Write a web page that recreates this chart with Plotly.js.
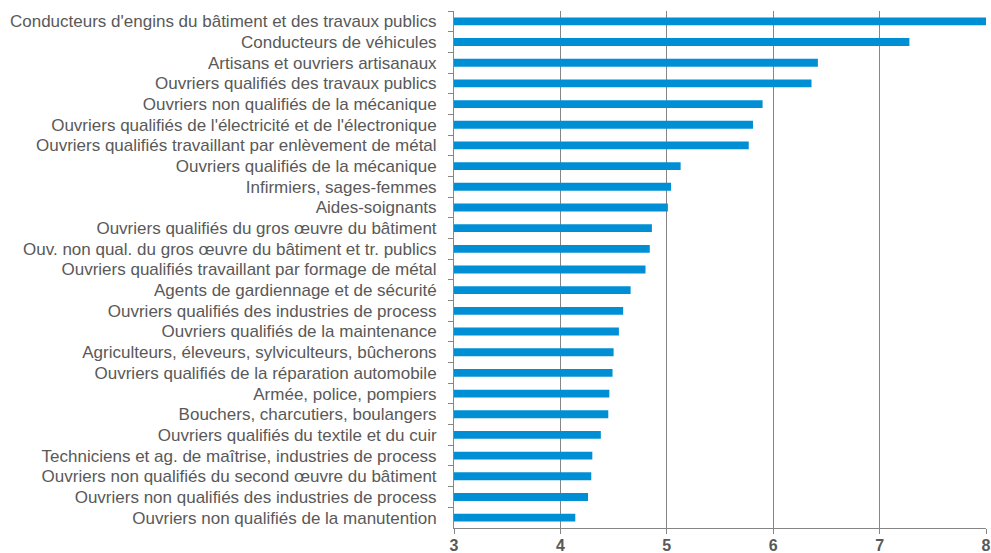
<!DOCTYPE html>
<html>
<head>
<meta charset="utf-8">
<script src="https://cdn.plot.ly/plotly-3.0.1.min.js"></script>
<style>html,body{margin:0;padding:0;background:#fff;}#chart{width:991px;height:553px;}</style>
</head>
<body>
<div id="chart"></div>
<script>
const categories = [
  "Conducteurs d'engins du bâtiment et des travaux publics",
  "Conducteurs de véhicules",
  "Artisans et ouvriers artisanaux",
  "Ouvriers qualifiés des travaux publics",
  "Ouvriers non qualifiés de la mécanique",
  "Ouvriers qualifiés de l'électricité et de l'électronique",
  "Ouvriers qualifiés travaillant par enlèvement de métal",
  "Ouvriers qualifiés de la mécanique",
  "Infirmiers, sages-femmes",
  "Aides-soignants",
  "Ouvriers qualifiés du gros œuvre du bâtiment",
  "Ouv. non qual. du gros œuvre du bâtiment et tr. publics",
  "Ouvriers qualifiés travaillant par formage de métal",
  "Agents de gardiennage et de sécurité",
  "Ouvriers qualifiés des industries de process",
  "Ouvriers qualifiés de la maintenance",
  "Agriculteurs, éleveurs, sylviculteurs, bûcherons",
  "Ouvriers qualifiés de la réparation automobile",
  "Armée, police, pompiers",
  "Bouchers, charcutiers, boulangers",
  "Ouvriers qualifiés du textile et du cuir",
  "Techniciens et ag. de maîtrise, industries de process",
  "Ouvriers non qualifiés du second œuvre du bâtiment",
  "Ouvriers non qualifiés des industries de process",
  "Ouvriers non qualifiés de la manutention"
];
const values = [8.0, 7.28, 6.42, 6.36, 5.90, 5.81, 5.77, 5.13, 5.04, 5.01,
  4.86, 4.84, 4.80, 4.66, 4.59, 4.55, 4.50, 4.49, 4.46, 4.45,
  4.38, 4.30, 4.29, 4.26, 4.14];
const xTicks = [3, 4, 5, 6, 7, 8];

const trace = {
  type: 'bar',
  orientation: 'h',
  x: values,
  y: categories,
  marker: {color: '#008fd5', line: {width: 0}},
  hoverinfo: 'x+y'
};

const layout = {
  width: 991, height: 553,
  margin: {l: 454, r: 5, t: 11, b: 25, pad: 0},
  paper_bgcolor: '#ffffff',
  plot_bgcolor: '#ffffff',
  showlegend: false,
  bargap: 0.62,
  font: {family: 'Arial, "Liberation Sans", sans-serif', color: '#595959', size: 17},
  xaxis: {
    range: [3, 8],
    tickvals: xTicks,
    ticktext: xTicks.map(String),
    showgrid: true, gridcolor: '#868686', gridwidth: 1,
    zeroline: false,
    showline: true, linecolor: '#868686', linewidth: 1,
    ticks: 'outside', ticklen: 5, tickcolor: '#868686',
    ticklabeloverflow: 'allow',
    ticklabelstandoff: -2,
    tickfont: {size: 16, color: '#595959', weight: 'bold'}
  },
  yaxis: {
    autorange: 'reversed',
    type: 'category',
    showgrid: false, zeroline: false,
    showline: true, linecolor: '#868686', linewidth: 1,
    ticks: 'outside', ticklen: 5, tickcolor: '#868686',
    tickson: 'boundaries',
    ticklabelstandoff: 13,
    tickfont: {size: 17, color: '#595959'}
  }
};

Plotly.newPlot('chart', [trace], layout, {displayModeBar: false, staticPlot: true});
</script>
</body>
</html>
